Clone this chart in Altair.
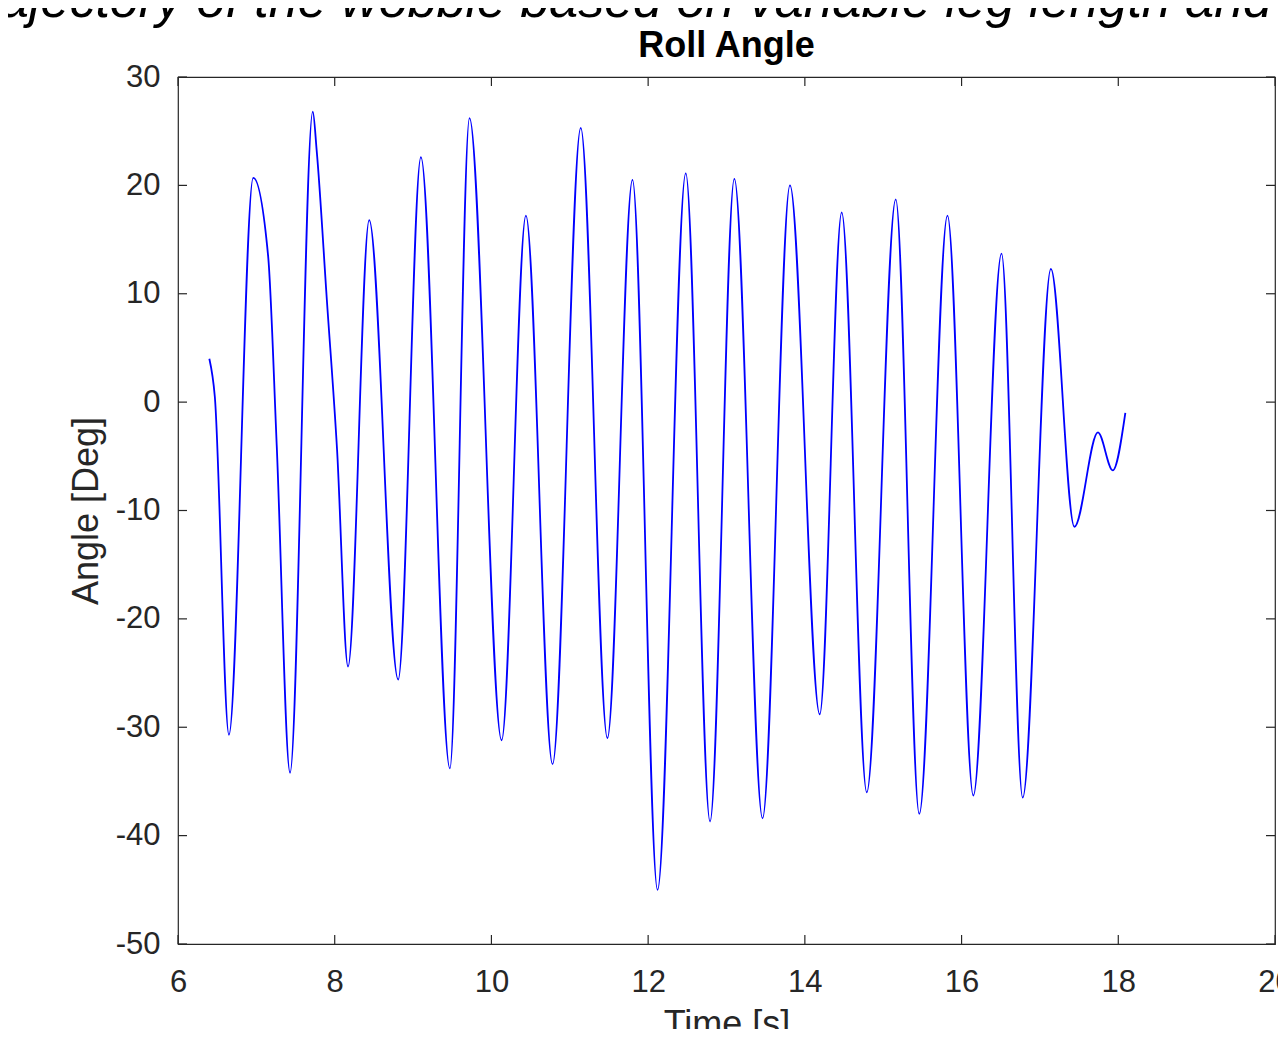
import altair as alt
import pandas as pd

# Roll angle trace (time [s], angle [deg])
time_s = [6.40, 6.47, 6.65, 6.96, 7.15, 7.26, 7.43, 7.72, 7.77, 7.90, 8.03, 8.17,
          8.44, 8.81, 9.10, 9.47, 9.72, 10.13, 10.44, 10.78, 11.14, 11.48, 11.80,
          12.12, 12.48, 12.79, 13.10, 13.46, 13.81, 14.19, 14.47, 14.79, 15.16,
          15.46, 15.82, 16.15, 16.51, 16.78, 17.14, 17.44, 17.74, 17.93, 18.09]
angle_deg = [4.0, 0.5, -30.7, 20.7, 13.5, -4.0, -34.2, 26.8, 23.2, 9.4, -4.4, -24.4,
             16.8, -25.6, 22.6, -33.8, 26.2, -31.2, 17.2, -33.4, 25.3, -31.0, 20.5,
             -45.0, 21.1, -38.7, 20.6, -38.4, 20.0, -28.8, 17.5, -36.0, 18.7,
             -38.0, 17.2, -36.3, 13.7, -36.5, 12.3, -11.5, -2.8, -6.3, -1.0]

x_ticks = [6, 8, 10, 12, 14, 16, 18, 20]
y_ticks = [-50, -40, -30, -20, -10, 0, 10, 20, 30]

title_text = "Roll Angle"
top_caption = "Trajectory of the wobble based on variable leg length and"
x_title = "Time [s]"
y_title = "Angle [Deg]"

W, H = 1097, 867
AX = "#262626"
FONT = "Liberation Sans"

df = pd.DataFrame({"t": time_s, "a": angle_deg})
xt = pd.DataFrame({"v": x_ticks})
yt = pd.DataFrame({"v": y_ticks})
cap = pd.DataFrame({"txt": [top_caption]})
ttl = pd.DataFrame({"txt": [title_text]})

xs = alt.Scale(domain=[6, 20], nice=False, zero=False)
ys = alt.Scale(domain=[-50, 30], nice=False, zero=False)

line = alt.Chart(df).mark_line(color="#0000ff", strokeWidth=1.8, interpolate="monotone").encode(
    x=alt.X("t:Q", scale=xs, title=x_title,
            axis=alt.Axis(values=x_ticks, ticks=False, tickSize=0, grid=False,
                          domain=False, labelPadding=23, titlePadding=10,
                          labelFlush=False, labelExpr="'' + datum.value")),
    y=alt.Y("a:Q", scale=ys, title=y_title,
            axis=alt.Axis(values=y_ticks, ticks=False, tickSize=0, grid=False,
                          domain=False, labelPadding=18, titlePadding=10,
                          labelExpr="'' + datum.value")),
)

tick_len = 9
xb = alt.Chart(xt).mark_rule(color=AX, strokeWidth=1.2).encode(
    x=alt.X("v:Q", scale=xs), y=alt.value(H), y2=alt.value(H - tick_len))
xtop = alt.Chart(xt).mark_rule(color=AX, strokeWidth=1.2).encode(
    x=alt.X("v:Q", scale=xs), y=alt.value(0), y2=alt.value(tick_len))
yl = alt.Chart(yt).mark_rule(color=AX, strokeWidth=1.2).encode(
    y=alt.Y("v:Q", scale=ys), x=alt.value(0), x2=alt.value(tick_len))
yr = alt.Chart(yt).mark_rule(color=AX, strokeWidth=1.2).encode(
    y=alt.Y("v:Q", scale=ys), x=alt.value(W), x2=alt.value(W - tick_len))

caption = alt.Chart(cap).mark_text(
    font=FONT, fontSize=52, fontStyle="italic", align="right", baseline="alphabetic",
    color="#000000").encode(text="txt:N", x=alt.value(1094), y=alt.value(-60))

title = alt.Chart(ttl).mark_text(
    font=FONT, fontSize=36, fontWeight="bold", align="center", baseline="alphabetic",
    color="#000000").encode(text="txt:N", x=alt.value(W / 2), y=alt.value(-20))

chart = alt.layer(line, xb, xtop, yl, yr, caption, title).properties(
    width=W, height=H,
    autosize=alt.AutoSizeParams(type="none"),
    padding={"left": 170, "top": 69, "right": 3, "bottom": 85},
).configure(background="#ffffff").configure_view(
    stroke=AX, strokeWidth=1.2
).configure_axis(
    labelFont=FONT, titleFont=FONT, labelFontSize=31, titleFontSize=36,
    labelColor=AX, titleColor=AX, titleFontWeight="normal",
)

chart.save("out.html", embed_options={"renderer": "svg", "actions": False})
